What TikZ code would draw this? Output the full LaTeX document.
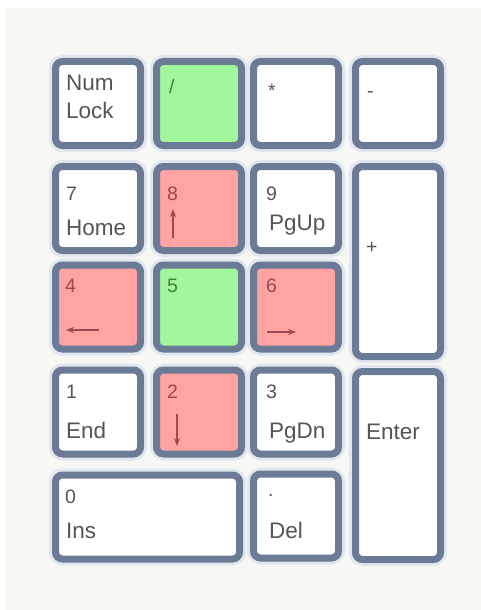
\documentclass[tikz,border=0pt]{standalone}
\usepackage{fontspec}
\setmainfont{Liberation Sans}
\usepackage{tikz}
\usetikzlibrary{arrows.meta}

\definecolor{keyedge}{HTML}{6C7B95}
\definecolor{keyhalo}{HTML}{E2E6EE}
\definecolor{padbg}{HTML}{F7F8F3}
\definecolor{keygreen}{HTML}{A2F79C}
\definecolor{keyred}{HTML}{FFA3A3}
\definecolor{txtgray}{HTML}{555555}
\definecolor{txtred}{HTML}{9A4A50}
\definecolor{txtgreen}{HTML}{3F7F3F}

\begin{document}
\begin{tikzpicture}[
  x=1pt,y=-1pt,
  key/.style={draw=keyedge,line width=7pt,rounded corners=7pt,fill=white,
    minimum width=85pt,minimum height=84pt,inner sep=0pt,
    preaction={draw=keyhalo,line width=13pt}},
  nav/.style={key,fill=keyred},
  mid/.style={key,fill=keygreen},
  lbl/.style={anchor=base west,inner sep=0pt,text=txtgray,font=\fontsize{22.5}{22.5}\selectfont},
  num/.style={lbl,font=\fontsize{19.5}{19.5}\selectfont},
  rlbl/.style={num,text=txtred},
  glbl/.style={num,text=txtgreen},
  >={Stealth[length=8pt,width=6pt]}]
\fill[white] (0,0) rectangle (481,610);
\fill[padbg] (6,8) rectangle (481,610);
% keys
\node[key] (numlock) at (98,103.5) {};
\node[mid] (slash) at (199,103.5) {};
\node[key] (star) at (296,103.5) {};
\node[key] (minus) at (398,103.5) {};
\node[key] (seven) at (98,208.5) {};
\node[nav] (eight) at (199,208.5) {};
\node[key] (nine) at (296,208.5) {};
\node[key,minimum height=190pt] (plus) at (398,261.5) {};
\node[nav] (four) at (98,307) {};
\node[mid] (five) at (199,307) {};
\node[nav] (six) at (296,307) {};
\node[key] (one) at (98,412) {};
\node[nav] (two) at (199,412) {};
\node[key] (three) at (296,412) {};
\node[key,minimum height=188pt] (enter) at (398,465.5) {};
\node[key,minimum width=184pt] (zero) at (147.5,517) {};
\node[key] (dot) at (296,516) {};
% labels
\node[lbl] (numlockA) at (66,90) {Num};
\node[lbl] (numlockB) at (66,118) {Lock};
\node[glbl] (slashA) at (169,93) {/};
\node[num] (starA) at (268,97) {*};
\node[num] (minusA) at (367,97) {-};
\node[num] (sevenA) at (66,200) {7};
\node[lbl] (sevenB) at (66,235) {Home};
\node[rlbl] (eightA) at (167,200) {8};
\node[num] (nineA) at (266,200) {9};
\node[lbl] (nineB) at (269,230) {PgUp};
\node[num] (plusA) at (366,253) {+};
\node[rlbl] (fourA) at (65,292) {4};
\node[glbl] (fiveA) at (167,292) {5};
\node[rlbl] (sixA) at (266,292) {6};
\node[num] (oneA) at (66,398) {1};
\node[lbl] (oneB) at (66,438) {End};
\node[rlbl] (twoA) at (167,398) {2};
\node[num] (threeA) at (266,398) {3};
\node[lbl] (threeB) at (269,438) {PgDn};
\node[lbl] (enterA) at (366,439) {Enter};
\node[num] (zeroA) at (65,503) {0};
\node[lbl] (zeroB) at (66,538) {Ins};
\node[num] (dotA) at (268,496) {.};
\node[lbl] (dotB) at (269,538) {Del};
% arrows
\coordinate (upA) at (173,238);
\coordinate (upB) at (173,209);
\coordinate (leftA) at (99,330);
\coordinate (leftB) at (66,330);
\coordinate (rightA) at (267,332);
\coordinate (rightB) at (296,332);
\coordinate (downA) at (177,414);
\coordinate (downB) at (177,446);
\draw[->,txtred,line width=1.4pt] (upA) -- (upB);
\draw[->,txtred,line width=1.4pt] (leftA) -- (leftB);
\draw[->,txtred,line width=1.4pt] (rightA) -- (rightB);
\draw[->,txtred,line width=1.4pt] (downA) -- (downB);
\end{tikzpicture}
\end{document}
